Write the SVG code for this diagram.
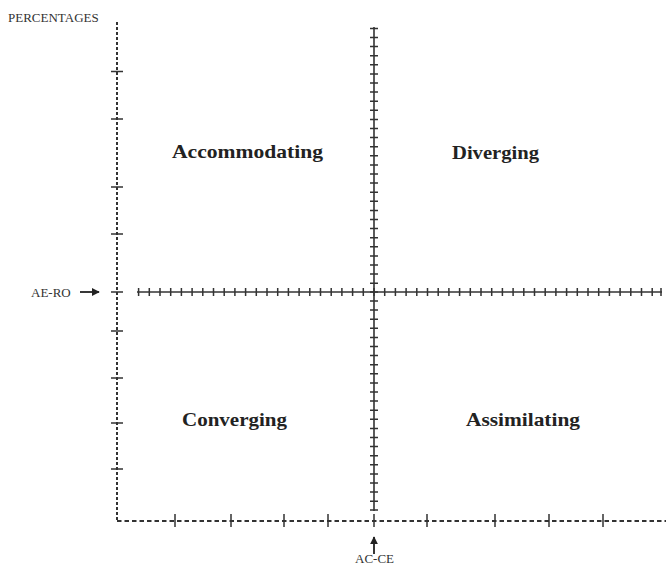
<svg xmlns="http://www.w3.org/2000/svg" width="666" height="565" viewBox="0 0 666 565">
<defs>
<style>
.lbl{font-family:"Liberation Serif","Times New Roman",serif;font-size:13px;fill:#333}
.q{font-family:"Liberation Serif","Times New Roman",serif;font-size:19px;font-weight:bold;fill:#222}
.ax{stroke:#333;fill:none}
.dv{stroke-width:2;stroke-dasharray:3 2}
.dh{stroke-width:2;stroke-dasharray:4.5 3}
.tk{stroke:#333;stroke-width:1.5}
</style>
<marker id="ah" viewBox="0 0 10 10" refX="9" refY="5" markerWidth="8" markerHeight="8" markerUnits="userSpaceOnUse" orient="auto">
<path d="M0,0 L10,5 L0,10 Z" fill="#222"/>
</marker>
</defs>
<rect width="666" height="565" fill="#fff"/>
<g id="labels">
<text class="lbl" x="8" y="22">PERCENTAGES</text>
<text class="lbl" x="31" y="297">AE-RO</text>
<text class="lbl" x="355" y="563">AC-CE</text>
</g>
<g id="quadrants">
<text id="accommodating" class="q" x="172" y="158" textLength="151" lengthAdjust="spacingAndGlyphs">Accommodating</text>
<text id="diverging" class="q" x="452" y="159" textLength="87" lengthAdjust="spacingAndGlyphs">Diverging</text>
<text id="converging" class="q" x="182" y="426" textLength="105" lengthAdjust="spacingAndGlyphs">Converging</text>
<text id="assimilating" class="q" x="466" y="426" textLength="114" lengthAdjust="spacingAndGlyphs">Assimilating</text>
</g>
<g id="connectors">
<line x1="80" y1="292" x2="99" y2="292" stroke="#222" stroke-width="1.8" marker-end="url(#ah)"/>
<line x1="374" y1="554" x2="374" y2="537" stroke="#222" stroke-width="1.8" marker-end="url(#ah)"/>
</g>
<g id="left-axis">
<line class="ax dv" x1="117" y1="22" x2="117" y2="521"/>
<path class="tk" d="M111,71.5h12M111,119h12M111,187h12M111,234h12M111,292h12M111,331h12M111,378h12M111,423h12M111,469h12"/>
</g>
<g id="bottom-axis">
<line class="ax dh" x1="117" y1="521" x2="666" y2="521"/>
<path class="tk" d="M175,514v13M231,514v13M284,514v13M328,514v13M374,514v13M427,514v13M495,514v13M549,514v13M603,514v13"/>
</g>
<g id="horizontal-axis">
<line class="ax" stroke-width="1.6" x1="137" y1="292" x2="662" y2="292"/>
<path class="tk" d="M138.6,288v8M149.3,288v8M160,288v8M170.7,288v8M181.4,288v8M192.1,288v8M202.8,288v8M213.5,288v8M224.2,288v8M234.9,288v8M245.6,288v8M256.3,288v8M267,288v8M277.7,288v8M288.4,288v8M299.1,288v8M309.8,288v8M320.5,288v8M331.2,288v8M341.9,288v8M352.6,288v8M363.3,288v8M384.7,288v8M395.4,288v8M406.1,288v8M416.8,288v8M427.5,288v8M438.2,288v8M448.9,288v8M459.6,288v8M470.3,288v8M481,288v8M491.7,288v8M502.4,288v8M513.1,288v8M523.8,288v8M534.5,288v8M545.2,288v8M555.9,288v8M566.6,288v8M577.3,288v8M588,288v8M598.7,288v8M609.4,288v8M620.1,288v8M630.8,288v8M641.5,288v8M652.2,288v8M661,288v8"/>
</g>
<g id="vertical-axis">
<line class="ax" stroke-width="1.6" x1="374" y1="27" x2="374" y2="511"/>
<path class="tk" d="M370,28.4h8M370,37.5h8M370,46.6h8M370,55.7h8M370,64.8h8M370,73.9h8M370,83h8M370,92.1h8M370,101.2h8M370,110.3h8M370,119.4h8M370,128.5h8M370,137.6h8M370,146.7h8M370,155.8h8M370,164.9h8M370,174h8M370,183.1h8M370,192.2h8M370,201.3h8M370,210.4h8M370,219.5h8M370,228.6h8M370,237.7h8M370,246.8h8M370,255.9h8M370,265h8M370,274.1h8M370,283.2h8M370,292h8M370,301h8M370,310.1h8M370,319.2h8M370,328.3h8M370,337.4h8M370,346.5h8M370,355.6h8M370,364.7h8M370,373.8h8M370,382.9h8M370,392h8M370,401.1h8M370,410.2h8M370,419.3h8M370,428.4h8M370,437.5h8M370,446.6h8M370,455.7h8M370,464.8h8M370,473.9h8M370,483h8M370,492.1h8M370,501.2h8M370,510h8"/>
<path class="tk" d="M374,288v8"/>
</g>
</svg>
